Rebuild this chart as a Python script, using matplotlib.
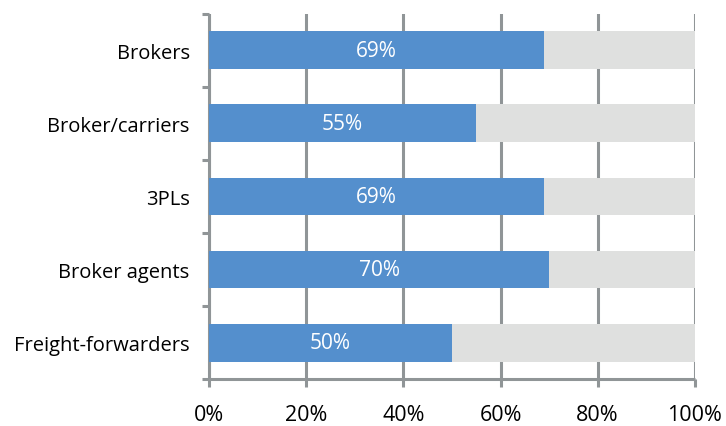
"""
Participação por tipo de empresa: barras horizontais empilhadas até 100%.
"""

import matplotlib.pyplot as plt
from matplotlib.ticker import FixedLocator

categorias = ["Brokers", "Broker/carriers", "3PLs", "Broker agents",
              "Freight-forwarders"]
valores = [69, 55, 69, 70, 50]
restante = [100 - v for v in valores]
ticks_x = [0, 20, 40, 60, 80, 100]
rotulos_x = ["0%", "20%", "40%", "60%", "80%", "100%"]

AZUL = "#548fcd"
CINZA_BARRA = "#dfe0df"
CINZA_EIXO = "#909597"

plt.rcParams["font.family"] = ["Open Sans", "DejaVu Sans"]

fig = plt.figure(figsize=(7.26, 4.27), dpi=100)
ax = fig.add_axes([0.288, 0.110, 0.669, 0.855])

pos = list(range(len(categorias)))[::-1]
ax.barh(pos, valores, height=0.52, color=AZUL, zorder=3)
ax.barh(pos, restante, left=valores, height=0.52, color=CINZA_BARRA,
        zorder=3)

# rótulos de valor no meio da parte azul
for y, v in zip(pos, valores):
    ax.text(v / 2, y, f"{v}%", color="white", fontsize=15,
            ha="center", va="center", zorder=4)

ax.set_xlim(0, 100)
ax.set_ylim(-0.5, len(categorias) - 0.5)

ax.set_xticks(ticks_x)
ax.set_xticklabels(rotulos_x, fontsize=15.5)
ax.set_yticks(pos)
ax.set_yticklabels(categorias, fontsize=14.5)
ax.yaxis.set_minor_locator(
    FixedLocator([p - 0.5 for p in range(len(categorias) + 1)]))

ax.tick_params(axis="x", length=6, width=2.2, color=CINZA_EIXO, pad=12)
ax.tick_params(axis="y", which="major", length=0, pad=14)
ax.tick_params(axis="y", which="minor", length=5, width=2.2,
               color=CINZA_EIXO)

ax.grid(axis="x", color=CINZA_EIXO, linewidth=2.2, zorder=1)
ax.set_axisbelow(True)

for lado in ["top", "right"]:
    ax.spines[lado].set_visible(False)
for lado in ["left", "bottom"]:
    ax.spines[lado].set_color(CINZA_EIXO)
    ax.spines[lado].set_linewidth(2.2)
    ax.spines[lado].set_capstyle("butt")

fig.savefig("out.png", dpi=100)
